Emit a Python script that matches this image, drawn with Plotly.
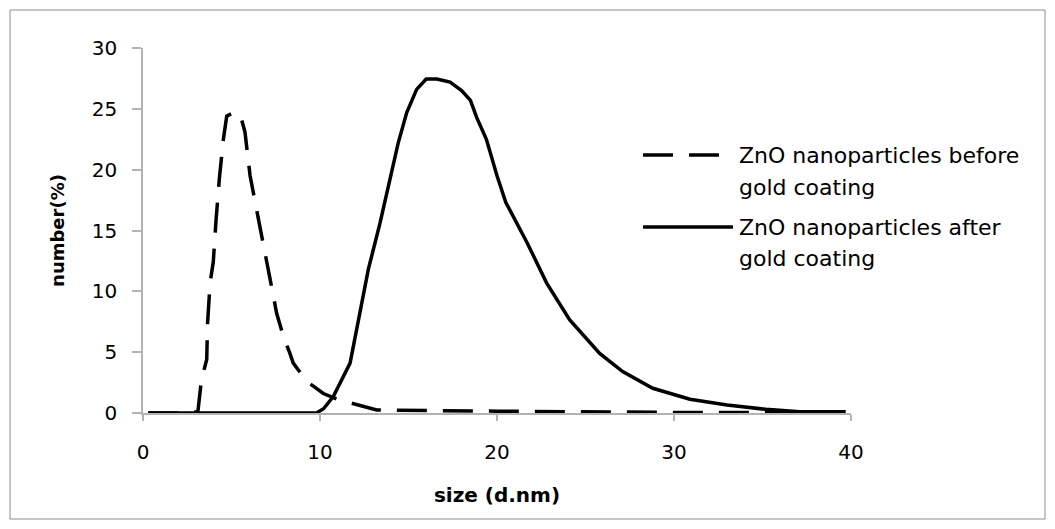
import plotly.graph_objects as go

# Data
size_before = [0.3, 1.0, 2.0, 3.1, 3.3, 3.6, 3.65, 3.79, 3.97, 4.12, 4.31, 4.54, 4.73, 5.0,
               5.48, 5.76, 6.05, 6.42, 6.8, 7.18, 7.55, 7.93, 8.3, 8.49, 9.25, 10.19, 11.1,
               13.2, 20.0, 30.0, 40.0]
number_before = [0, 0, 0, 0.1, 2.7, 4.4, 7.4, 10.7, 12.4, 15.7, 19.2, 22.5, 24.4, 24.6,
                 24.6, 23.1, 19.5, 16.7, 13.7, 11.0, 8.2, 6.3, 4.9, 4.1, 2.6, 1.6, 1.07,
                 0.25, 0.15, 0.05, 0.05]

size_after = [0.3, 5.0, 9.8, 10.2, 10.75, 11.7, 12.26, 12.73, 13.39, 13.95, 14.42, 14.9,
              15.46, 16.0, 16.6, 17.35, 18.0, 18.5, 18.85, 19.4, 20.0, 20.5, 21.7, 22.8,
              24.1, 25.8, 27.1, 28.8, 30.9, 33.0, 35.2, 37.1, 39.7]
number_after = [0, 0, 0, 0.35, 1.35, 4.1, 8.2, 11.8, 15.6, 19.2, 22.2, 24.7, 26.6, 27.45,
                27.45, 27.2, 26.5, 25.7, 24.3, 22.5, 19.5, 17.3, 14.0, 10.7, 7.67, 4.9,
                3.4, 2.03, 1.13, 0.66, 0.3, 0.1, 0.1]

x_ticks = [0, 10, 20, 30, 40]
y_ticks = [0, 5, 10, 15, 20, 25, 30]

legend_lines = [["ZnO nanoparticles before", "gold coating"],
                ["ZnO nanoparticles after", "gold coating"]]

FONT = "DejaVu Sans"
DASH = "30px,16px"

fig = go.Figure()
fig.add_trace(go.Scatter(x=size_before, y=number_before, mode="lines",
                         line=dict(color="black", width=3.5, dash=DASH),
                         showlegend=False, cliponaxis=False))
fig.add_trace(go.Scatter(x=size_after, y=number_after, mode="lines",
                         line=dict(color="black", width=3.5),
                         showlegend=False, cliponaxis=False))

# Page has an 8px body margin; figure coordinates are page coordinates minus 8
OFF = 8
FW, FH = 1055 - OFF, 529 - OFF
L, R, T, B = 143 - OFF, 204, 48 - OFF, 116
W, H = FW - L - R, FH - T - B

def px(xp):  # page x -> paper x
    return (xp - OFF - L) / W

def py(yp):  # page y -> paper y
    return (FH - B - (yp - OFF)) / H

legend_rows = [(155, 187, True, 723), (227, 259, False, 733)]
for (y1, y2, dashed, xe), lines in zip(legend_rows, legend_lines):
    fig.add_shape(type="line", xref="paper", yref="paper",
                  x0=px(643), x1=px(xe), y0=py(y1), y1=py(y1),
                  line=dict(color="black", width=3.5, dash=DASH if dashed else "solid"))
    for yy, txt in zip((y1, y2), lines):
        fig.add_annotation(xref="paper", yref="paper", x=px(737), y=py(yy),
                           xanchor="left", yanchor="middle", align="left", showarrow=False,
                           text=txt, font=dict(family=FONT, size=22, color="black"))

# Outer chart border
fig.add_shape(type="rect", xref="paper", yref="paper",
              x0=px(10), x1=px(1045), y0=py(519), y1=py(10),
              line=dict(color="#8c8c8c", width=1), layer="below")

axis_common = dict(showgrid=False, zeroline=False, showline=True, linecolor="#b3b3b3",
                   linewidth=1.5, ticks="outside", tickcolor="#b3b3b3", tickwidth=1.5,
                   tickfont=dict(family=FONT, size=20, color="black"))

fig.update_xaxes(range=[0, 40], tickvals=x_ticks, ticklen=6, ticklabelstandoff=14,
                 title=dict(text="<b>size (d.nm)</b>", font=dict(family=FONT, size=20, color="black"),
                            standoff=25),
                 **axis_common)
fig.update_yaxes(range=[0, 30], tickvals=y_ticks, ticklen=9, ticklabelstandoff=11,
                 title=dict(text="<b>number(%)</b>", font=dict(family=FONT, size=18, color="black"),
                            standoff=22),
                 **axis_common)

fig.update_layout(width=FW, height=FH, margin=dict(l=L, r=R, t=T, b=B),
                  plot_bgcolor="white", paper_bgcolor="white",
                  font=dict(family=FONT, color="black"))

fig.write_html("out.html")
